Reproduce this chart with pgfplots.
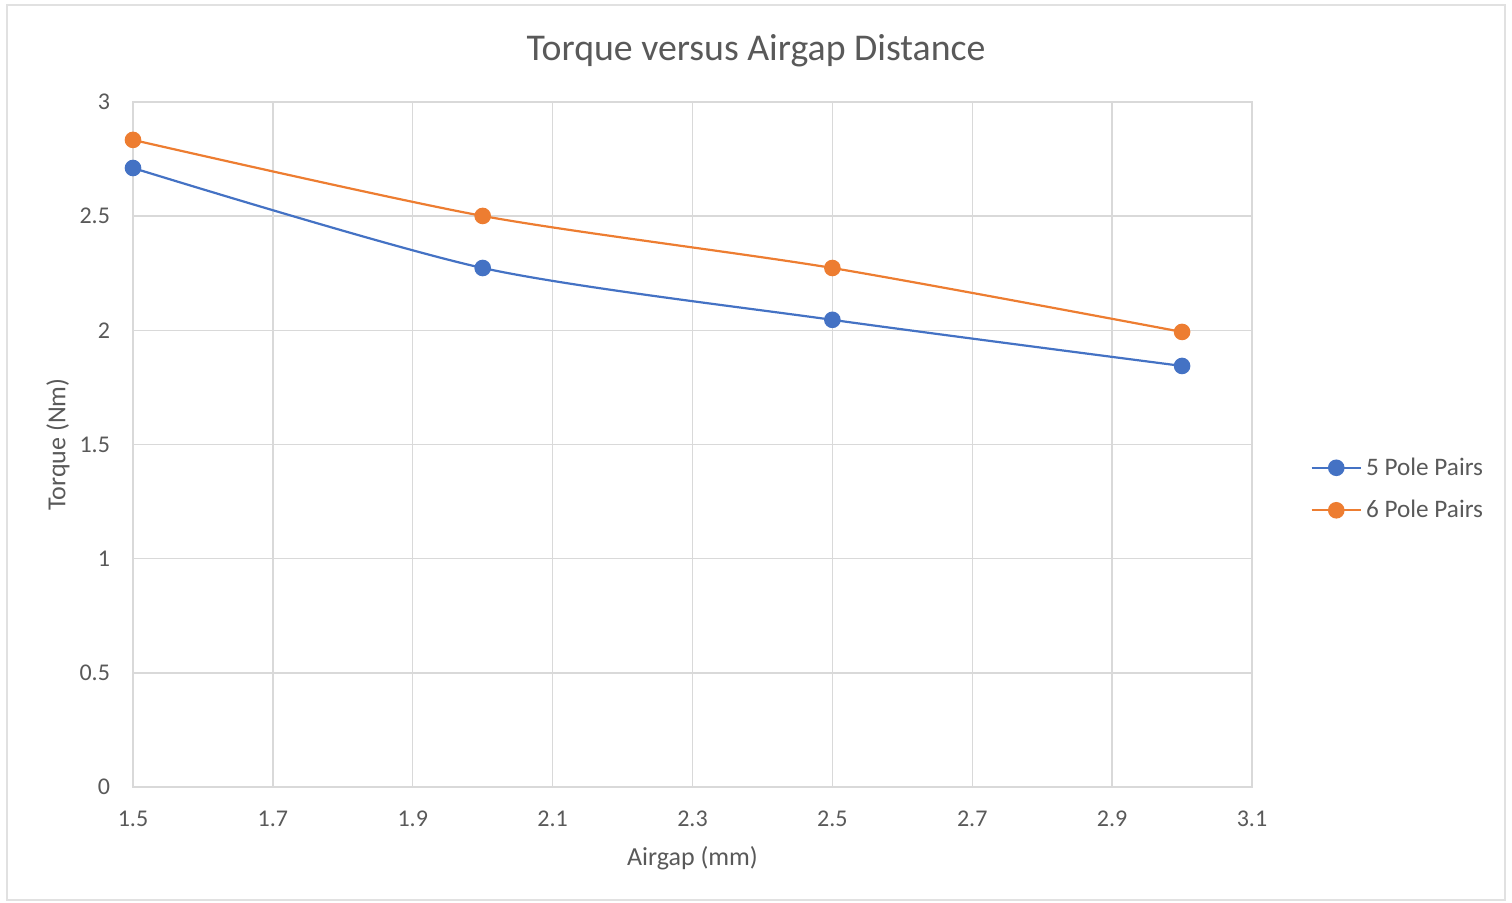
\documentclass[border=0pt]{standalone}
\usepackage{pgfplots}
\pgfplotsset{compat=1.18}
\usepackage{fontspec}
\setmainfont{Carlito}
\definecolor{xblue}{HTML}{4472C4}
\definecolor{xorange}{HTML}{ED7D31}
\definecolor{txt}{HTML}{595959}
\definecolor{gridc}{HTML}{D9D9D9}
\begin{document}
\begin{tikzpicture}[x=0.5pt,y=0.5pt]
% chart frame (1512 x 902 px, 1 px = 0.5pt), axis origin at px (133,787)
\draw[gridc!80!white,line width=0.8pt] (-126,-113) rectangle (1372,782);
\path[use as bounding box] (-133,-115) rectangle (1379,787);
\begin{axis}[
    at={(0,0)}, anchor=south west,
    scale only axis,
    width=559.5pt, height=342.5pt,
    xmin=1.5, xmax=3.1, ymin=0, ymax=3,
    xtick={1.5,1.7,...,3.1},
    ytick={0,0.5,...,3},
    xticklabels={1.5,1.7,1.9,2.1,2.3,2.5,2.7,2.9,3.1},
    yticklabels={0,0.5,1,1.5,2,2.5,3},
    grid=major,
    grid style={gridc, line width=0.7pt},
    axis line style={gridc, line width=0.7pt},
    tick style={draw=none},
    ticklabel style={font=\fontsize{12}{14}\selectfont, text=txt},
    /pgf/number format/assume math mode=true,
    xticklabel style={yshift=-8.5pt},
    yticklabel style={xshift=-8pt},
    xlabel={Airgap (mm)},
    ylabel={Torque (Nm)},
    label style={font=\fontsize{13}{15}\selectfont, text=txt},
    xlabel style={at={(axis description cs:0.5,0)}, anchor=center, yshift=-35.5pt},
    ylabel style={at={(axis description cs:0,0.5)}, anchor=center, yshift=37.5pt},
    legend style={at={(1.0465,0.435)}, anchor=west, draw=none, fill=none,
        font=\fontsize{12.6}{15}\selectfont, text=txt, row sep=7pt},
    legend cell align=left,
    legend image code/.code={
        \draw[#1, mark=none] (0cm,0cm) -- (0.87cm,0cm);
        \draw[#1] plot coordinates {(0.435cm,0cm)};},
    clip=false,
]
\addplot[xblue, line width=1.1pt, smooth, tension=0.45, mark=*,
    mark size=3.6pt, mark options={solid, fill=xblue, draw=xblue}]
    coordinates {(1.5,2.711) (2.0,2.273) (2.5,2.046) (3.0,1.844)};
\addlegendentry{5 Pole Pairs}
\addplot[xorange, line width=1.1pt, smooth, tension=0.45, mark=*,
    mark size=3.6pt, mark options={solid, fill=xorange, draw=xorange}]
    coordinates {(1.5,2.834) (2.0,2.501) (2.5,2.273) (3.0,1.993)};
\addlegendentry{6 Pole Pairs}
\end{axis}
\node[text=txt, font=\fontsize{18.9}{22}\selectfont] at (623,736) {Torque versus Airgap Distance};
\end{tikzpicture}
\end{document}
